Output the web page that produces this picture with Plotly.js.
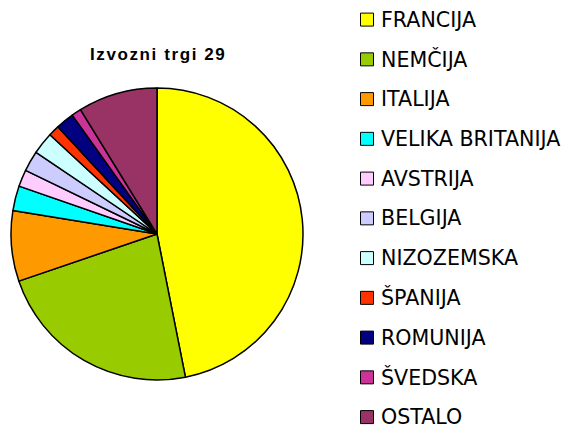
<!DOCTYPE html>
<html>
<head>
<meta charset="utf-8">
<script src="https://cdn.plot.ly/plotly-3.0.1.min.js"></script>
<style>
html,body{margin:0;padding:0;background:#fff;}
#chart{width:566px;height:425px;}
g.annotation[data-index="0"] text{letter-spacing:1.6px;}
</style>
</head>
<body>
<div id="chart"></div>
<script>
const titleText = "Izvozni trgi 29";
const labels = ["FRANCIJA", "NEMČIJA", "ITALIJA", "VELIKA BRITANIJA", "AVSTRIJA", "BELGIJA", "NIZOZEMSKA", "ŠPANIJA", "ROMUNIJA", "ŠVEDSKA", "OSTALO"];
const values = [46.9, 22.9, 7.8, 2.75, 1.86, 2.28, 2.44, 1.22, 2.03, 1.08, 8.78];
const colors = ["#FFFF00", "#99CC00", "#FF9900", "#00FFFF", "#FFCCFF", "#CCCCFF", "#CCFFFF", "#FF3300", "#000080", "#CC3399", "#993366"];

const W = 566, H = 425;
const px = x => x / W;
const py = y => 1 - y / H;

const trace = {
  type: "pie",
  labels: labels,
  values: values,
  sort: false,
  direction: "clockwise",
  rotation: 0,
  textinfo: "none",
  hoverinfo: "label+percent",
  marker: { colors: colors, line: { color: "#000000", width: 1.5 } },
  domain: { x: [px(11), px(303)], y: [py(380), py(88)] },
  showlegend: false
};

const shapes = [];
const annotations = [{
  text: "<b>" + titleText + "</b>",
  x: px(158), y: py(55), xref: "paper", yref: "paper",
  xanchor: "center", yanchor: "middle", showarrow: false,
  font: { family: "Liberation Sans, Arial, sans-serif", size: 17, color: "#000" }
}];
labels.forEach((lab, i) => {
  const cy = 19.6 + 39.75 * i;
  shapes.push({
    type: "rect", xref: "paper", yref: "paper",
    x0: px(360.5), x1: px(373.5), y0: py(cy + 6.5), y1: py(cy - 6.5),
    fillcolor: colors[i], line: { color: "#000", width: 1 }
  });
  annotations.push({
    text: lab, x: px(378.5), y: py(cy), xref: "paper", yref: "paper",
    xanchor: "left", yanchor: "middle", showarrow: false,
    font: { family: "DejaVu Sans, sans-serif", size: 20.6, color: "#000" }
  });
});

const layout = {
  width: W, height: H,
  margin: { l: 0, r: 0, t: 0, b: 0 },
  paper_bgcolor: "#fff",
  showlegend: false,
  shapes: shapes,
  annotations: annotations
};

Plotly.newPlot("chart", [trace], layout, { displayModeBar: false, staticPlot: true });
</script>
</body>
</html>
